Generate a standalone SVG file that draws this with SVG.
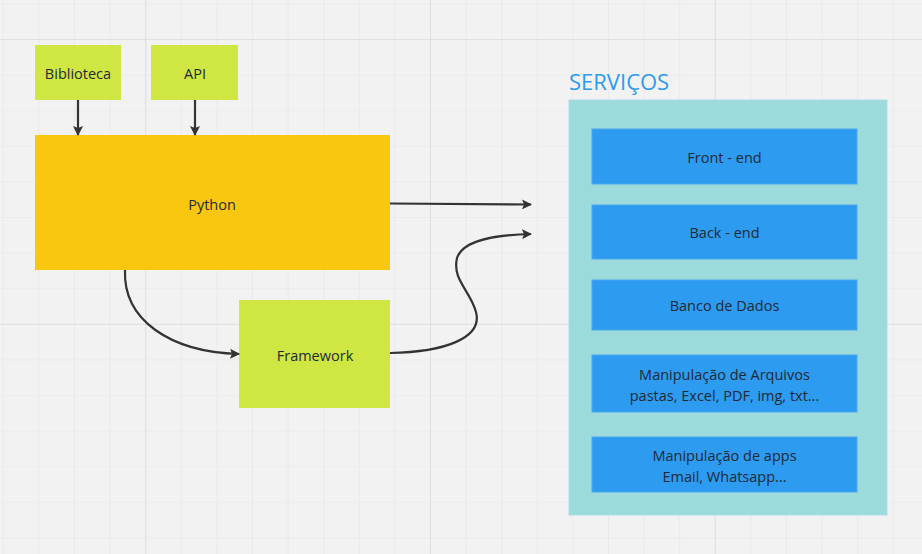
<svg xmlns="http://www.w3.org/2000/svg" width="922" height="554" viewBox="0 0 922 554">
<defs>
<pattern id="minor" x="2.8" y="3.4" width="35.6" height="35.6" patternUnits="userSpaceOnUse">
<path d="M0,0 H35.6 M0,0 V35.6" fill="none" stroke="#e5e5e5" stroke-width="1.2"/>
</pattern>
<pattern id="major" x="145.2" y="39" width="284.8" height="284.8" patternUnits="userSpaceOnUse">
<path d="M0,0 H284.8 M0,0 V284.8" fill="none" stroke="#dcdcdc" stroke-width="1.6"/>
</pattern>
<marker id="arr" viewBox="0 0 10 10" refX="9" refY="5" markerWidth="10" markerHeight="10" markerUnits="userSpaceOnUse" orient="auto">
<path d="M0,0 L10,5 L0,10 L2,5 Z" fill="#333"/>
</marker>
<style>
.lbl{font-family:"Open Sans","Noto Sans",sans-serif;font-size:14.5px;fill:#1f2a36;text-anchor:middle;dominant-baseline:central}
.lime{fill:#d0e643}
.svc{fill:#2d9bf0;stroke:#4aa8f0;stroke-width:1}
.conn{fill:none;stroke:#333;stroke-width:2.2;marker-end:url(#arr)}
</style>
</defs>
<rect width="922" height="554" fill="#f2f2f2"/>
<rect width="922" height="554" fill="url(#minor)"/>
<rect width="922" height="554" fill="url(#major)"/>

<g id="biblioteca"><rect class="lime" x="35" y="45" width="86" height="55"/><text class="lbl" x="78" y="73">Biblioteca</text></g>
<g id="api"><rect class="lime" x="151" y="45" width="87" height="55"/><text class="lbl" x="195" y="73">API</text></g>
<g id="python"><rect fill="#fac710" x="35" y="135" width="355" height="135"/><text class="lbl" x="212" y="204">Python</text></g>
<g id="framework"><rect class="lime" x="239" y="300" width="151" height="108"/><text class="lbl" x="315" y="355">Framework</text></g>

<g id="servicos">
<text x="569" y="90" font-family="'Open Sans','Noto Sans',sans-serif" font-size="22" fill="#2d9bf0">SERVIÇOS</text>
<rect x="569" y="100" width="318" height="415" fill="#9ddadb" stroke="#a9e0e6" stroke-width="1"/>
</g>
<g id="frontend"><rect class="svc" x="592" y="129" width="265" height="55"/><text class="lbl" x="724.5" y="157">Front - end</text></g>
<g id="backend"><rect class="svc" x="592" y="205" width="265" height="54"/><text class="lbl" x="724.5" y="232">Back - end</text></g>
<g id="banco"><rect class="svc" x="592" y="280" width="265" height="50"/><text class="lbl" x="724.5" y="305">Banco de Dados</text></g>
<g id="arquivos"><rect class="svc" x="592" y="355" width="265" height="57"/><text class="lbl" x="724.5" y="374">Manipulação de Arquivos</text><text class="lbl" x="724.5" y="395">pastas, Excel, PDF, img, txt...</text></g>
<g id="apps"><rect class="svc" x="592" y="437" width="265" height="55"/><text class="lbl" x="724.5" y="455">Manipulação de apps</text><text class="lbl" x="724.5" y="476">Email, Whatsapp...</text></g>

<g id="connectors">
<path class="conn" d="M78,100 V135"/>
<path class="conn" d="M195,100 V135"/>
<path class="conn" d="M390,203.5 L531,204.5"/>
<path class="conn" d="M125,270 C123,320 170,352 239,354"/>
<path class="conn" d="M390,353 C445,352 483,338 476,312 C470,290 452,280 457,258 C463,240 495,235 531,234"/>
</g>
</svg>
